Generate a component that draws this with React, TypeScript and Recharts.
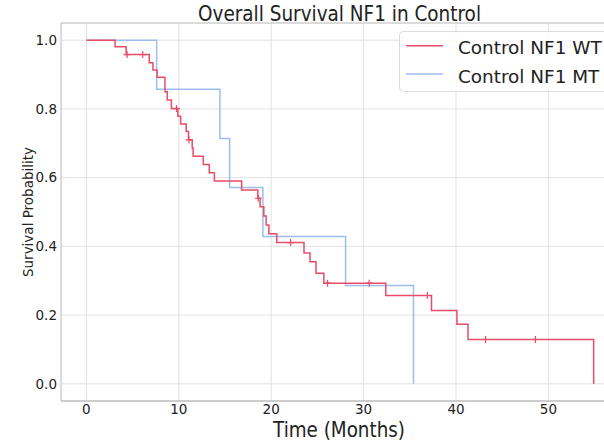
import {
  CartesianGrid,
  ComposedChart,
  Customized,
  Line,
  ReferenceLine,
  Scatter,
  XAxis,
  YAxis,
} from 'recharts';

// Kaplan-Meier steps (time in months, survival after the event)
const wtTimes = [0, 3.1, 4.3, 6.8, 7.2, 7.65, 8.5, 8.75, 9.2, 9.9, 10.2, 10.8, 11.05, 11.45, 11.55, 12.65, 13.3, 13.85, 16.8, 18.55, 18.8, 19.2, 19.45, 19.75, 20.6, 23.55, 24.2, 24.85, 25.7, 32.4, 37.35, 40.1, 41.3, 54.9];
const wtSurv = [1, 0.981, 0.958, 0.934, 0.913, 0.892, 0.85, 0.826, 0.801, 0.779, 0.756, 0.734, 0.71, 0.686, 0.662, 0.638, 0.614, 0.59, 0.564, 0.54, 0.515, 0.488, 0.462, 0.437, 0.411, 0.381, 0.355, 0.322, 0.293, 0.257, 0.213, 0.173, 0.129, 0];
const wtCensored = [4.4, 6.1, 9.75, 11.1, 18.6, 22.1, 26.1, 30.6, 36.9, 43.2, 48.6];

const mtTimes = [0, 7.6, 14.45, 15.5, 19.1, 28.05, 35.4];
const mtSurv = [1, 0.857, 0.714, 0.571, 0.429, 0.286, 0];

const xTicks = [0, 10, 20, 30, 40, 50];
const yTicks = [0, 0.2, 0.4, 0.6, 0.8, 1.0];

const seriesNames = ['Control NF1 WT', 'Control NF1 MT'];

const RED = '#e84c68';
const BLUE = '#9dbcf0';
const FONT = 'DejaVu Sans, sans-serif';

function survivalAt(times: number[], surv: number[], t: number) {
  let s = surv[0];
  for (let i = 0; i < times.length; i++) {
    if (times[i] <= t) s = surv[i];
  }
  return s;
}

const wtData = wtTimes.map((t, i) => ({ t, s: wtSurv[i] }));
const mtData = mtTimes.map((t, i) => ({ t, s: mtSurv[i] }));
const wtCensorData = wtCensored.map((t) => ({ t, s: survivalAt(wtTimes, wtSurv, t) }));

function CensorMark(props: any) {
  const { cx, cy } = props;
  if (cx == null || cy == null) return null;
  return (
    <path
      d={`M${cx - 3.5},${cy}H${cx + 3.5}M${cx},${cy - 3.5}V${cy + 3.5}`}
      stroke={RED}
      strokeWidth={1.2}
      fill="none"
    />
  );
}

function XTick({ x, y, payload }: any) {
  return (
    <text x={x} y={y + 13} textAnchor="middle" fontSize={13.5} fontFamily={FONT} fill="#222">
      {payload.value}
    </text>
  );
}

function YTick({ x, y, payload }: any) {
  return (
    <text x={x - 4} y={y} dy="0.36em" textAnchor="end" fontSize={13.5} fontFamily={FONT} fill="#222">
      {Number(payload.value).toFixed(1)}
    </text>
  );
}

function Decorations() {
  return (
    <g fontFamily={FONT}>
      <text x={339.5} y={21} textAnchor="middle" fontSize={20.5} fill="#222" textLength={283} lengthAdjust="spacingAndGlyphs">
        Overall Survival NF1 in Control
      </text>
      <text x={339} y={437} textAnchor="middle" fontSize={20.5} fill="#222" textLength={132} lengthAdjust="spacingAndGlyphs">
        Time (Months)
      </text>
      <text x={33} y={212} textAnchor="middle" fontSize={13.5} fill="#222" transform="rotate(-90 33 212)">
        Survival Probability
      </text>
      <rect x={399.5} y={31.5} width={230} height={60} rx={4} fill="rgba(255,255,255,0.85)" stroke="#dcdcdc" />
      <line x1={406} x2={443} y1={45.7} y2={45.7} stroke={RED} strokeWidth={1.5} />
      <line x1={406} x2={443} y1={74} y2={74} stroke={BLUE} strokeWidth={1.5} />
      <text x={458} y={54.3} fontSize={18.4} fill="#222">
        {seriesNames[0]}
      </text>
      <text x={458} y={83.3} fontSize={18.4} fill="#222">
        {seriesNames[1]}
      </text>
    </g>
  );
}

export default function App() {
  return (
    <div
      style={{
        position: 'absolute',
        left: 0,
        top: 0,
        width: 604,
        height: 444,
        overflow: 'hidden',
        background: '#fff',
      }}
    >
      <ComposedChart width={620} height={444} margin={{ top: 23, right: 0, bottom: 0, left: 0 }}>
        <CartesianGrid stroke="#e2e2e2" strokeWidth={1} />
        <XAxis
          type="number"
          dataKey="t"
          domain={[-2.75, 57.75]}
          ticks={xTicks}
          allowDataOverflow
          height={43}
          tickLine={false}
          tickSize={0}
          tickMargin={0}
          axisLine={{ stroke: '#a8a8a8' }}
          tick={<XTick />}
        />
        <YAxis
          type="number"
          dataKey="s"
          domain={[-0.05, 1.05]}
          ticks={yTicks}
          allowDataOverflow
          width={61}
          tickLine={false}
          tickSize={0}
          tickMargin={0}
          axisLine={{ stroke: '#c4c4c4' }}
          tick={<YTick />}
        />
        <ReferenceLine y={1.05} stroke="#c4c4c4" />
        <Line
          data={mtData}
          dataKey="s"
          name={seriesNames[1]}
          type="stepAfter"
          stroke={BLUE}
          strokeWidth={1.5}
          dot={false}
          activeDot={false}
          isAnimationActive={false}
        />
        <Line
          data={wtData}
          dataKey="s"
          name={seriesNames[0]}
          type="stepAfter"
          stroke={RED}
          strokeWidth={1.5}
          dot={false}
          activeDot={false}
          isAnimationActive={false}
        />
        <Scatter data={wtCensorData} dataKey="s" shape={<CensorMark />} isAnimationActive={false} />
        <Customized component={<Decorations />} />
      </ComposedChart>
    </div>
  );
}
